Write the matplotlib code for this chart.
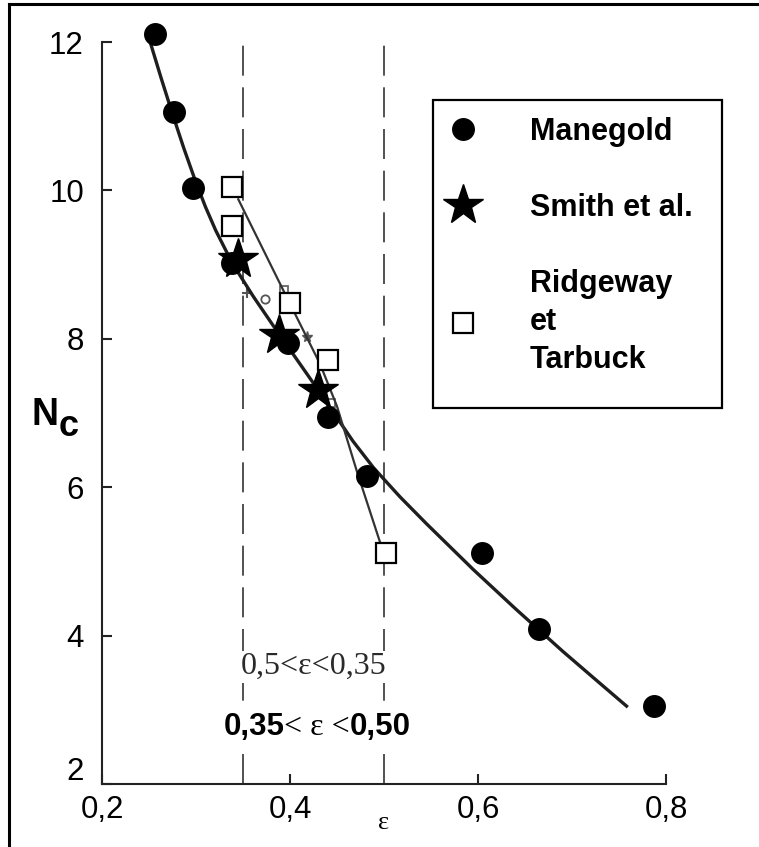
import matplotlib
matplotlib.use("Agg")
import matplotlib.pyplot as plt
import matplotlib.transforms as mtransforms
from matplotlib.lines import Line2D
from matplotlib.patches import Rectangle

plt.rcParams["font.family"] = ["Liberation Sans", "DejaVu Sans"]

# --- data ---
# Manegold (filled circles)
manegold_eps = [0.256, 0.277, 0.297, 0.338, 0.398, 0.440, 0.482, 0.604, 0.665, 0.787]
manegold_nc = [12.11, 11.06, 10.03, 9.02, 7.95, 6.94, 6.15, 5.11, 4.09, 3.05]

# Smith et al. (stars)
smith_eps = [0.345, 0.388, 0.430]
smith_nc = [9.08, 8.05, 7.31]

# Ridgeway et Tarbuck (open squares)
ridgeway_eps = [0.338, 0.338, 0.400, 0.440, 0.502]
ridgeway_nc = [10.04, 9.52, 8.48, 7.71, 5.11]

# curve drawn through the Manegold points (traced)
curve_eps = [0.251, 0.263, 0.275, 0.287, 0.299, 0.310, 0.321, 0.333, 0.346, 0.361,
             0.382, 0.4035, 0.425, 0.446, 0.467, 0.489, 0.517, 0.545, 0.595, 0.640,
             0.690, 0.723, 0.758]
curve_nc = [12.01, 11.51, 11.03, 10.57, 10.14, 9.78, 9.46, 9.16, 8.87, 8.57,
            8.18, 7.79, 7.40, 7.01, 6.62, 6.26, 5.87, 5.51, 4.89, 4.36,
            3.79, 3.43, 3.05]

# thin line through the Ridgeway points
rt_line_eps = [0.345, 0.393, 0.432, 0.450, 0.471, 0.496]
rt_line_nc = [9.88, 8.65, 7.66, 7.09, 6.22, 5.25]

# faint marks left over from the original figure
faint_o = ([0.373], [8.53])
faint_plus = ([0.354], [8.62])
faint_star = ([0.418], [8.03])
faint_sq = ([0.394, 0.444], [8.66, 7.14])

# limits of the porosity window (dashed lines)
eps_limits = [0.35, 0.50]

xticks = [0.2, 0.4, 0.6, 0.8]
xtick_labels = ["0,2", "0,4", "0,6", "0,8"]
yticks = [2, 4, 6, 8, 10, 12]
ytick_labels = ["2", "4", "6", "8", "10", "12"]

W, H = 759, 847
fig = plt.figure(figsize=(W / 100, H / 100), dpi=100)
ax = fig.add_axes([102 / W, 1 - 784 / H, (666 - 102) / W, (784 - 42) / H])

ink = "#1e1e1e"

# dashed verticals
for e in eps_limits:
    ax.plot([e, e], [2, 12], color="#333333", lw=1.2, ls=(0, (18, 7)), zorder=1)

# curves
ax.plot(curve_eps, curve_nc, color=ink, lw=2.4, zorder=3, solid_joinstyle="round")
ax.plot(rt_line_eps, rt_line_nc, color="#333333", lw=1.6, zorder=3)

# faint marks
ax.plot(*faint_o, "o", ms=6, mfc="none", mec="#555555", mew=1.3, zorder=2)
ax.plot(*faint_plus, "+", ms=7, mec="#555555", mew=1.5, zorder=2)
ax.plot(*faint_star, "*", ms=8, color="#555555", zorder=2)
ax.plot(*faint_sq, "s", ms=6, mfc="none", mec="#666666", mew=1.3, zorder=2)

# data series
h_man, = ax.plot(manegold_eps, manegold_nc, "o", ms=15.5, color="black",
                 ls="none", zorder=5, clip_on=False, label="Manegold")
h_ridge, = ax.plot(ridgeway_eps, ridgeway_nc, "s", ms=14, mfc="white", mec="black",
                   mew=1.6, ls="none", zorder=6, clip_on=False,
                   label="Ridgeway\net\nTarbuck")
h_smith, = ax.plot(smith_eps, smith_nc, "*", ms=30, color="black",
                   ls="none", zorder=7, clip_on=False, label="Smith et al.")

ax.set_xlim(0.2, 0.8)
ax.set_ylim(2, 12)
ax.set_xticks(xticks)
ax.set_xticklabels(xtick_labels)
ax.set_yticks(yticks)
ax.set_yticklabels(ytick_labels)

for side in ["top", "right"]:
    ax.spines[side].set_visible(False)
for side in ["left", "bottom"]:
    ax.spines[side].set_linewidth(1.5)
    ax.spines[side].set_color("#222222")

ax.tick_params(axis="both", direction="in", length=7, width=1.5, color="#222222",
               labelsize=22.5, labelcolor="black")
ax.tick_params(axis="y", pad=13)
ax.tick_params(axis="x", pad=8)

# the "2" sits a bit above the axis line in the original
lab2 = ax.yaxis.get_major_ticks()[0].label1
lab2.set_transform(lab2.get_transform()
                   + mtransforms.ScaledTranslation(0, 16 / 100, fig.dpi_scale_trans))

# annotations inside the plot
white = dict(facecolor="white", edgecolor="none", pad=1)
ax.text(0.348, 3.58, "0,5<ε<0,35", family="Liberation Serif", fontsize=23,
        color="#2a2a2a", va="center", ha="left", zorder=4, bbox=white)

t1 = ax.text(0.329, 2.77, "0,35", fontsize=22.5, fontweight="bold", va="center",
             ha="left", zorder=4, bbox=white)
t2 = ax.annotate("< ε <", xy=(1, 0), xycoords=t1, va="bottom", ha="left",
                 fontsize=23, family="Liberation Serif", zorder=4, bbox=white)
ax.annotate("0,50", xy=(1, 0), xycoords=t2, va="bottom", ha="left",
            fontsize=22.5, fontweight="bold", zorder=4, bbox=white)

# epsilon under the axis
ax.text(0.5, -(823 - 784) / 742, "ε", transform=ax.transAxes, ha="center",
        va="center", family="Liberation Serif", fontsize=19)

# N_c axis label
fig.text(31 / W, 1 - 425 / H, "N", fontsize=27, fontweight="bold", va="baseline")
fig.text(59 / W, 1 - 436 / H, "c", fontsize=26, fontweight="bold", va="baseline")

# legend (box drawn separately to match the original proportions)
leg = ax.legend(handles=[h_man, h_smith, h_ridge], loc="upper left",
                bbox_to_anchor=(448 / W, 1 - 117 / H), bbox_transform=fig.transFigure,
                borderaxespad=0, borderpad=0, frameon=False, numpoints=1,
                handlelength=1.0, handletextpad=1.68, labelspacing=1.5,
                prop={"weight": "bold", "size": 22})
for t in leg.get_texts():
    t.set_linespacing(1.36)
leg.set_zorder(10)
fig.add_artist(Rectangle((433 / W, 1 - 408 / H), 289 / W, 308 / H,
                         transform=fig.transFigure, fill=False, lw=1.6,
                         ec="black", zorder=9))

# frame of the scanned page (left and top edges)
fig.add_artist(Line2D([9 / W, 9 / W], [0, 1 - 4 / H], transform=fig.transFigure,
                      color="black", lw=2.2))
fig.add_artist(Line2D([9 / W, 1], [1 - 4 / H, 1 - 4 / H], transform=fig.transFigure,
                      color="black", lw=2.2))

fig.savefig("out.png", dpi=100, facecolor="white")
